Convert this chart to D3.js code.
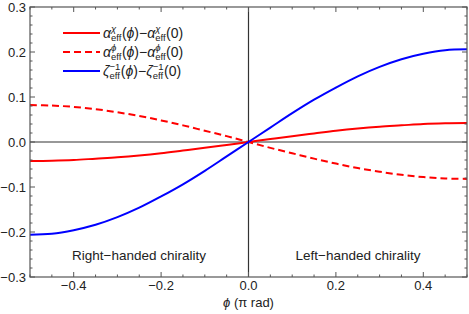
<!DOCTYPE html>
<html>
<head>
<meta charset="utf-8">
<script src="https://cdn.jsdelivr.net/npm/d3@7"></script>
<style>
  body { margin: 0; background: #fff; }
  text { font-family: "Liberation Sans", Arial, sans-serif; fill: #222; }
</style>
</head>
<body>
<svg id="chart" width="469" height="314"></svg>
<script>
// values
const phi = [-0.5, -0.45, -0.4, -0.35, -0.3, -0.25, -0.2, -0.15, -0.1, -0.05, 0,
  0.05, 0.1, 0.15, 0.2, 0.25, 0.3, 0.35, 0.4, 0.45, 0.5];
const alphaChi = [-0.042, -0.0415, -0.040, -0.037, -0.034, -0.030, -0.025, -0.019, -0.013, -0.0066, 0,
  0.0066, 0.013, 0.019, 0.025, 0.030, 0.034, 0.037, 0.040, 0.0415, 0.042];
const alphaPhi = [0.082, 0.081, 0.078, 0.073, 0.066, 0.058, 0.048, 0.037, 0.025, 0.013, 0,
  -0.013, -0.025, -0.037, -0.048, -0.058, -0.066, -0.073, -0.078, -0.081, -0.082];
const zetaInv = [-0.206, -0.204, -0.196, -0.184, -0.167, -0.146, -0.121, -0.094, -0.064, -0.032, 0,
  0.032, 0.064, 0.094, 0.121, 0.146, 0.167, 0.184, 0.196, 0.204, 0.206];

const xTicks = [-0.4, -0.2, 0.0, 0.2, 0.4];
const yTicks = [-0.3, -0.2, -0.1, 0.0, 0.1, 0.2, 0.3];

const series = [
  {values: alphaChi, color: '#f00', dash: null, sym: 'α', sup: 'χ'},
  {values: alphaPhi, color: '#f00', dash: '7,4', sym: 'α', sup: 'ϕ'},
  {values: zetaInv, color: '#00f', dash: null, sym: 'ζ', sup: '−1'}
];

const svg = d3.select('#chart');
const x = d3.scaleLinear().domain([-0.5, 0.5]).range([30, 467]);
const y = d3.scaleLinear().domain([-0.3, 0.3]).range([277, 7]);
const frame = '#555';

// zero lines
svg.append('line').attr('x1', x(-0.5)).attr('x2', x(0.5)).attr('y1', y(0)).attr('y2', y(0))
  .attr('stroke', '#333').attr('stroke-width', 1.2);
svg.append('line').attr('x1', x(0)).attr('x2', x(0)).attr('y1', y(-0.3)).attr('y2', y(0.3))
  .attr('stroke', '#333').attr('stroke-width', 1.2);

// curves
const line = d3.line()
  .x((d, i) => x(phi[i]))
  .y(d => y(d))
  .curve(d3.curveCatmullRom);
const plot = svg.append('g');
series.forEach(s => {
  plot.append('path')
    .attr('d', line(s.values))
    .attr('fill', 'none')
    .attr('stroke', s.color)
    .attr('stroke-width', 2)
    .attr('stroke-dasharray', s.dash);
});

// frame and ticks on all sides, pointing inward
const axes = svg.append('g').attr('stroke', frame);
const xMinor = d3.range(-10, 11).map(i => i * 0.05);
const yMinor = d3.range(-15, 16).map(i => i * 0.02);
const isMajor = (v, step) => Math.abs(v / step - Math.round(v / step)) < 1e-6;
xMinor.forEach(v => {
  const len = isMajor(v, 0.2) ? 5 : 2.5;
  axes.append('line').attr('x1', x(v)).attr('x2', x(v)).attr('y1', y(-0.3)).attr('y2', y(-0.3) - len);
  axes.append('line').attr('x1', x(v)).attr('x2', x(v)).attr('y1', y(0.3)).attr('y2', y(0.3) + len);
});
yMinor.forEach(v => {
  const len = isMajor(v, 0.1) ? 5 : 2.5;
  axes.append('line').attr('y1', y(v)).attr('y2', y(v)).attr('x1', x(-0.5)).attr('x2', x(-0.5) + len);
  axes.append('line').attr('y1', y(v)).attr('y2', y(v)).attr('x1', x(0.5)).attr('x2', x(0.5) - len);
});
svg.append('rect')
  .attr('x', x(-0.5)).attr('y', y(0.3))
  .attr('width', x(0.5) - x(-0.5)).attr('height', y(-0.3) - y(0.3))
  .attr('fill', 'none').attr('stroke', frame).attr('stroke-width', 1.2);

// tick labels
svg.append('g').selectAll('text').data(xTicks).join('text')
  .attr('x', d => x(d)).attr('y', 290)
  .attr('text-anchor', 'middle').attr('font-size', 13)
  .text(d => d3.format('.1f')(d).replace('-', '−'));
svg.append('g').selectAll('text').data(yTicks).join('text')
  .attr('x', 26).attr('y', d => y(d) + 4.5)
  .attr('text-anchor', 'end').attr('font-size', 13)
  .text(d => d3.format('.1f')(d).replace('-', '−'));

// axis title
const title = svg.append('text').attr('x', x(0)).attr('y', 307)
  .attr('text-anchor', 'middle').attr('font-size', 13);
title.append('tspan').attr('font-style', 'italic').text('ϕ');
title.append('tspan').text(' (π rad)');

// region labels
svg.append('text').attr('x', 139).attr('y', 260).attr('text-anchor', 'middle')
  .attr('font-size', 13.5).text('Right−handed chirality');
svg.append('text').attr('x', 358).attr('y', 260).attr('text-anchor', 'middle')
  .attr('font-size', 13.5).text('Left−handed chirality');

// legend
const legend = svg.append('g');
const rowY = [33, 52, 71];
const put = (g, cx, cy, str, opts) => {
  const t = g.append('text').attr('x', cx).attr('y', cy)
    .attr('font-size', opts.size || 14)
    .attr('font-style', opts.italic ? 'italic' : null)
    .text(str);
  return t.node().getComputedTextLength();
};
series.forEach((s, i) => {
  const cy = rowY[i];
  legend.append('line').attr('x1', 63).attr('x2', 100).attr('y1', cy).attr('y2', cy)
    .attr('stroke', s.color).attr('stroke-width', 2).attr('stroke-dasharray', s.dash);
  let cx = 103;
  const by = cy + 5;
  const term = () => {
    cx += put(legend, cx, by, s.sym, {italic: true});
    const w1 = put(legend, cx, by - 6.5, s.sup, {size: 9.5, italic: s.sup !== '−1'});
    const w2 = put(legend, cx, by + 3, 'eff', {size: 9.5});
    cx += Math.max(w1, w2) + 0.5;
  };
  term();
  cx += put(legend, cx, by, '(', {});
  cx += put(legend, cx, by, 'ϕ', {italic: true});
  cx += put(legend, cx, by, ')−', {});
  term();
  put(legend, cx, by, '(0)', {});
});
</script>
</body>
</html>
